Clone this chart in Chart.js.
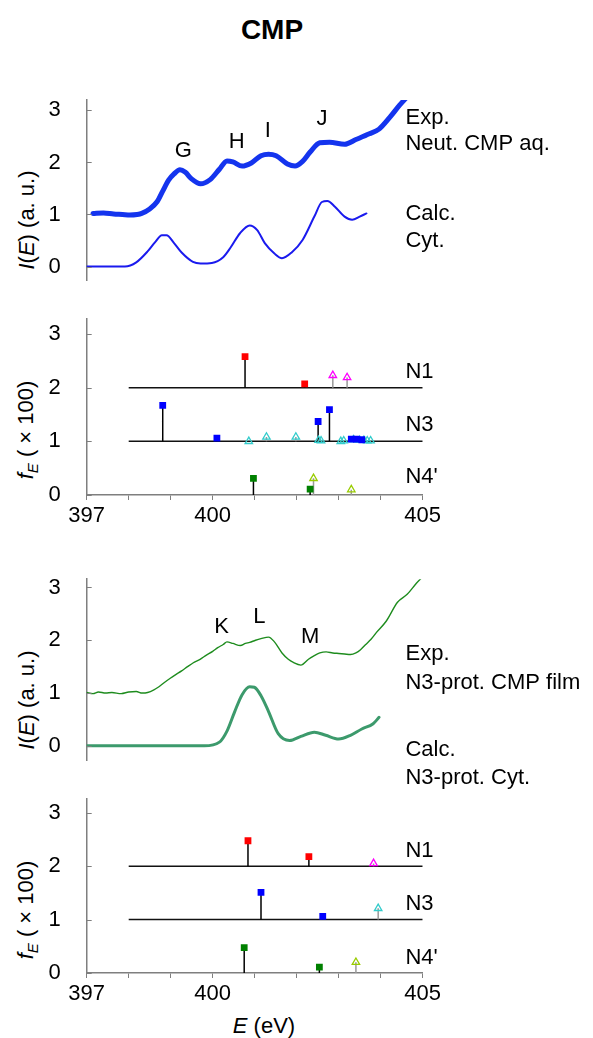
<!DOCTYPE html>
<html>
<head>
<meta charset="utf-8">
<script src="https://cdn.jsdelivr.net/npm/chart.js@4.4.1/dist/chart.umd.min.js"></script>
<style>
	body { margin: 0; background: #fff; }
	#page { position: relative; width: 593px; height: 1038px; overflow: hidden; background: #fff;
		font-family: "Liberation Sans", Arial, sans-serif; color: #000; }
	#page canvas { position: absolute; left: 0; }
	.txt { position: absolute; white-space: nowrap; font-size: 22px; line-height: 1; }
	.title { left: 272px; top: 30px; transform: translate(-50%, -50%); font-weight: bold; font-size: 28px; }
	.ytitle { transform: translate(-50%, -50%) rotate(-90deg); }
	.sub { font-size: 15px; vertical-align: -5px; }
</style>
</head>
<body>
<div id="page">
	<div class="txt title">CMP</div>
	<div class="txt ytitle" style="left:27px; top:220px"><i>I</i>(<i>E</i>) (a. u.)</div>
	<div class="txt ytitle" style="left:27px; top:430px"><i>f</i><span class="sub"><i>E</i></span> ( × 100)</div>
	<div class="txt ytitle" style="left:27px; top:700px"><i>I</i>(<i>E</i>) (a. u.)</div>
	<div class="txt ytitle" style="left:27px; top:910px"><i>f</i><span class="sub"><i>E</i></span> ( × 100)</div>
	<div class="txt" style="left:264px; top:1026px; transform: translate(-50%, -50%)"><i>E</i> (eV)</div>

	<canvas id="neut_spectrum" width="593" height="260" style="top:60px"></canvas>
	<canvas id="neut_sticks" width="593" height="270" style="top:280px"></canvas>
	<canvas id="prot_spectrum" width="593" height="260" style="top:540px"></canvas>
	<canvas id="prot_sticks" width="593" height="278" style="top:760px"></canvas>
</div>
<script>
// ===========================================
// Data
// ===========================================

// Axis ticks
var xTicks = [397, 398, 399, 400, 401, 402, 403, 404, 405];
var xTickLabels = [397, 400, 405];
var yTicks = [0, 1, 2, 3];

// Neutral CMP, experiment (aq.) and calculation (Cyt.)
var neutExpE = [397.15, 397.4, 397.64, 397.85, 398.03, 398.2, 398.31, 398.49, 398.68, 398.81,
	398.95, 399.08, 399.22, 399.35, 399.49, 399.71, 399.94, 400.16, 400.34, 400.48,
	400.7, 400.92, 401.15, 401.33, 401.51, 401.78, 401.96, 402.14, 402.32, 402.55,
	402.78, 403.14, 403.41, 403.73, 403.96, 404.22, 404.45, 404.63];
var neutExpI = [1.02, 1.03, 1.01, 1.0, 0.99, 1.0, 1.02, 1.1, 1.25, 1.45,
	1.66, 1.78, 1.86, 1.81, 1.69, 1.59, 1.67, 1.87, 2.03, 2.01,
	1.93, 1.99, 2.13, 2.16, 2.13, 1.97, 1.93, 2.02, 2.2, 2.38,
	2.39, 2.35, 2.44, 2.55, 2.64, 2.87, 3.1, 3.26];

var neutCalcE = [396.93, 397.91, 398.18, 398.45, 398.63, 398.79, 398.9, 399.08, 399.26, 399.53,
	399.71, 399.98, 400.25, 400.43, 400.65, 400.88, 401.06, 401.24, 401.47, 401.65,
	401.88, 402.14, 402.42, 402.6, 402.73, 402.91, 403.14, 403.32, 403.5, 403.66];
var neutCalcI = [0, 0, 0.08, 0.29, 0.47, 0.6, 0.6, 0.45, 0.27, 0.09,
	0.06, 0.07, 0.18, 0.37, 0.64, 0.79, 0.7, 0.45, 0.25, 0.16,
	0.27, 0.51, 0.96, 1.24, 1.26, 1.15, 0.96, 0.9, 0.96, 1.02];

// N3-protonated CMP, experiment (film) and calculation
var protExpE = [397.0, 397.15, 397.28, 397.45, 397.6, 397.82, 398.0, 398.18, 398.32, 398.45,
	398.6, 398.72, 398.85, 398.99, 399.12, 399.26, 399.4, 399.53, 399.7, 399.85,
	400.0, 400.12, 400.25, 400.34, 400.48, 400.66, 400.78, 400.88, 401.02, 401.15,
	401.33, 401.47, 401.65, 401.8, 401.92, 402.1, 402.28, 402.4, 402.55, 402.7,
	402.86, 403.0, 403.14, 403.28, 403.41, 403.52, 403.63, 403.77, 403.9, 404.13,
	404.4, 404.63, 404.85, 405.03];
var protExpI = [1.01, 0.99, 1.02, 1.0, 1.01, 0.99, 1.02, 1.03, 1.0, 1.01,
	1.06, 1.12, 1.2, 1.28, 1.35, 1.42, 1.5, 1.57, 1.64, 1.72,
	1.79, 1.86, 1.92, 1.97, 1.94, 1.9, 1.94, 1.96, 2.0, 2.03,
	2.06, 1.97, 1.76, 1.64, 1.58, 1.53, 1.64, 1.7, 1.76, 1.78,
	1.76, 1.75, 1.74, 1.73, 1.76, 1.82, 1.91, 2.02, 2.15, 2.36,
	2.72, 2.87, 3.08, 3.23];

var protCalcE = [397.0, 399.8, 400.16, 400.34, 400.52, 400.7, 400.88, 400.99, 401.15, 401.33,
	401.56, 401.83, 402.1, 402.42, 402.69, 403.0, 403.28, 403.55, 403.82, 403.96];
var protCalcI = [0, 0, 0.07, 0.28, 0.64, 0.97, 1.12, 1.11, 0.95, 0.65,
	0.23, 0.1, 0.18, 0.26, 0.2, 0.13, 0.2, 0.32, 0.42, 0.54];

// Oscillator strengths f_E (x100), neutral CMP
var neutN1SqE = [400.77, 402.19];
var neutN1SqF = [0.58, 0.07];
var neutN1TriE = [402.86, 403.2];
var neutN1TriF = [0.23, 0.19];
var neutN3SqE = [398.81, 400.1, 402.51, 402.78, 403.3, 403.42, 403.55];
var neutN3SqF = [0.67, 0.06, 0.37, 0.59, 0.04, 0.04, 0.03];
var neutN3TriE = [400.86, 401.28, 401.98, 402.52, 402.58, 403.05, 403.12, 403.35, 403.5, 403.6, 403.68, 403.76];
var neutN3TriF = [0.0, 0.08, 0.08, 0.02, 0.01, 0.0, 0.01, 0.03, 0.02, 0.02, 0.01, 0.01];
var neutN4SqE = [400.97, 402.32];
var neutN4SqF = [0.31, 0.11];
var neutN4TriE = [402.4, 403.3];
var neutN4TriF = [0.31, 0.1];

// Oscillator strengths f_E (x100), N3-protonated CMP
var protN1SqE = [400.84, 402.29];
var protN1SqF = [0.475, 0.18];
var protN1TriE = [403.83];
var protN1TriF = [0.05];
var protN3SqE = [401.15, 402.62];
var protN3SqF = [0.51, 0.06];
var protN3TriE = [403.94];
var protN3TriF = [0.21];
var protN4SqE = [400.75, 402.54];
var protN4SqF = [0.475, 0.11];
var protN4TriE = [403.41];
var protN4TriF = [0.2];

// Row names and their vertical offsets
var rowNames = ["N1", "N3", "N4'"];
var rowOffsets = [2, 1, 0];

// ===========================================
// Styles
// ===========================================
var fontFamily = '"Liberation Sans", Arial, sans-serif';
var fontSize = 22;
var axisColor = '#7f7f7f';
var baselineStart = 398;

var sqColors = ['#ff0000', '#0000ff', '#008000'];
var triColors = ['#ff00ff', '#33cccc', '#99cc00'];

// Annotations, in data units
var neutPeakLabels = [
	{ text: 'G', e: 399.3, v: 2.22 },
	{ text: 'H', e: 400.57, v: 2.40 },
	{ text: 'I', e: 401.31, v: 2.61 },
	{ text: 'J', e: 402.6, v: 2.83 },
	{ text: 'Exp.', e: 404.59, v: 2.85, align: 'left' },
	{ text: 'Neut. CMP aq.', e: 404.59, v: 2.35, align: 'left' },
	{ text: 'Calc.', e: 404.59, v: 1.02, align: 'left' },
	{ text: 'Cyt.', e: 404.59, v: 0.5, align: 'left' }
];
var protPeakLabels = [
	{ text: 'K', e: 400.21, v: 2.26 },
	{ text: 'L', e: 401.11, v: 2.44 },
	{ text: 'M', e: 402.32, v: 2.07 },
	{ text: 'Exp.', e: 404.59, v: 1.74, align: 'left' },
	{ text: 'N3-prot. CMP film', e: 404.59, v: 1.2, align: 'left' },
	{ text: 'Calc.', e: 404.59, v: -0.08, align: 'left' },
	{ text: 'N3-prot. Cyt.', e: 404.59, v: -0.6, align: 'left' }
];
var rowLabelV = [[2.30, 1.31, 0.33], [2.29, 1.29, 0.28]];

// ===========================================
// Functions
// ===========================================
function toPoints(xs, ys) {
	return xs.map(function(x, i) { return { x: x, y: ys[i] }; });
}

function stemPoints(es, fs, offset) {
	var pts = [];
	es.forEach(function(e, i) {
		pts.push({ x: e, y: offset });
		pts.push({ x: e, y: offset + fs[i] });
		pts.push({ x: e, y: null });
	});
	return pts;
}

function labelPlugin(labels) {
	return {
		id: 'panelLabels',
		afterDraw: function(chart) {
			var ctx = chart.ctx, xs = chart.scales.x, ys = chart.scales.y;
			ctx.save();
			ctx.font = fontSize + 'px ' + fontFamily;
			ctx.fillStyle = '#000';
			ctx.textBaseline = 'middle';
			labels.forEach(function(l) {
				ctx.textAlign = l.align || 'center';
				ctx.fillText(l.text, xs.getPixelForValue(l.e), ys.getPixelForValue(l.v));
			});
			ctx.restore();
		}
	};
}

// y ticks point into the plot
var inwardTicks = {
	id: 'inwardTicks',
	afterDraw: function(chart) {
		var ctx = chart.ctx, ys = chart.scales.y, left = chart.chartArea.left;
		ctx.save();
		ctx.strokeStyle = axisColor;
		ctx.lineWidth = 1;
		ys.ticks.forEach(function(t) {
			var y = Math.round(ys.getPixelForValue(t.value)) + 0.5;
			ctx.beginPath();
			ctx.moveTo(left, y);
			ctx.lineTo(left + 5, y);
			ctx.stroke();
		});
		ctx.restore();
	}
};

function makeScales(yMin, yMax, showX, xHeight) {
	return {
		x: {
			type: 'linear', min: 397, max: 405, display: showX,
			afterBuildTicks: function(s) { s.ticks = xTicks.map(function(v) { return { value: v }; }); },
			afterFit: function(s) { if (showX) s.height = xHeight; },
			ticks: {
				autoSkip: false, maxRotation: 0, padding: 3, color: '#000',
				font: { family: fontFamily, size: fontSize },
				callback: function(v) { return xTickLabels.indexOf(v) >= 0 ? String(v) : ''; }
			},
			grid: { drawOnChartArea: false, drawTicks: true, tickLength: 5, color: axisColor },
			border: { color: axisColor, width: 1.5 }
		},
		y: {
			type: 'linear', min: yMin, max: yMax,
			afterBuildTicks: function(s) { s.ticks = yTicks.map(function(v) { return { value: v }; }); },
			afterFit: function(s) { s.width = 86.7; },
			ticks: { padding: 26, color: '#000', font: { family: fontFamily, size: fontSize } },
			grid: { display: false, drawTicks: false },
			border: { color: axisColor, width: 1.5 }
		}
	};
}

function baseOptions(scales, padTop, padBottom) {
	return {
		responsive: false,
		animation: false,
		layout: { padding: { left: 0, right: 170.3, top: padTop, bottom: padBottom } },
		plugins: { legend: { display: false }, tooltip: { enabled: false } },
		scales: scales
	};
}

function createSpectrumChart(canvas, expData, expStyle, calcData, calcStyle, yMin, yMax, padTop, padBottom, labels) {
	new Chart(canvas, {
		type: 'line',
		data: {
			datasets: [
			{
				data: expData, borderColor: expStyle.color, borderWidth: expStyle.width,
				pointRadius: 0, cubicInterpolationMode: 'monotone', borderJoinStyle: 'round', borderCapStyle: 'round'
			},
			{
				data: calcData, borderColor: calcStyle.color, borderWidth: calcStyle.width,
				pointRadius: 0, cubicInterpolationMode: 'monotone', borderJoinStyle: 'round', borderCapStyle: 'round'
			}
			]
		},
		options: baseOptions(makeScales(yMin, yMax, false, 0), padTop, padBottom),
		plugins: [inwardTicks, labelPlugin(labels)]
	});
}

function createStickChart(canvas, rows, yMax, padTop, xHeight, labelV) {
	var markers = [], stems = [], baselines = [];
	var labels = [];
	rows.forEach(function(r, i) {
		var off = rowOffsets[i];
		markers.push({
			type: 'scatter', data: toPoints(r.sqE, r.sqF.map(function(f) { return f + off; })),
			pointStyle: 'rect', pointRadius: 4.8, backgroundColor: sqColors[i], borderColor: sqColors[i], borderWidth: 0
		});
		markers.push({
			type: 'scatter', data: toPoints(r.triE, r.triF.map(function(f) { return f + off; })),
			pointStyle: 'triangle', pointRadius: 4.3, backgroundColor: 'rgba(255,255,255,0)', borderColor: triColors[i], borderWidth: 1.3
		});
		stems.push({
			type: 'line', data: stemPoints(r.sqE, r.sqF, off), borderColor: '#000', borderWidth: 1.5, pointRadius: 0, spanGaps: false
		});
		stems.push({
			type: 'line', data: stemPoints(r.triE, r.triF, off), borderColor: '#999', borderWidth: 1.5, pointRadius: 0, spanGaps: false
		});
		if (off > 0) {
			baselines.push({
				type: 'line', data: [{ x: baselineStart, y: off }, { x: 405, y: off }], borderColor: '#111', borderWidth: 1.5, pointRadius: 0
			});
		}
		labels.push({ text: rowNames[i], e: 404.59, v: labelV[i], align: 'left' });
	});
	new Chart(canvas, {
		type: 'scatter',
		data: { datasets: markers.concat(stems, baselines) },
		options: baseOptions(makeScales(0, yMax, true, xHeight), padTop, 0),
		plugins: [inwardTicks, labelPlugin(labels)]
	});
}

// ===========================================
// Charts
// ===========================================
var neut_spectrum = document.getElementById("neut_spectrum").getContext('2d');
var neut_sticks = document.getElementById("neut_sticks").getContext('2d');
var prot_spectrum = document.getElementById("prot_spectrum").getContext('2d');
var prot_sticks = document.getElementById("prot_sticks").getContext('2d');

createSpectrumChart(neut_spectrum,
	toPoints(neutExpE, neutExpI), { color: '#1434ee', width: 5 },
	toPoints(neutCalcE, neutCalcI), { color: '#1a1aee', width: 2 },
	-0.274, 3.2, 40, 30, neutPeakLabels);

createStickChart(neut_sticks, [
	{ sqE: neutN1SqE, sqF: neutN1SqF, triE: neutN1TriE, triF: neutN1TriF },
	{ sqE: neutN3SqE, sqF: neutN3SqF, triE: neutN3TriE, triF: neutN3TriF },
	{ sqE: neutN4SqE, sqF: neutN4SqF, triE: neutN4TriE, triF: neutN4TriF }
], 3.277, 34, 55, rowLabelV[0]);

createSpectrumChart(prot_spectrum,
	toPoints(protExpE, protExpI), { color: '#1e8c1e', width: 1.4 },
	toPoints(protCalcE, protCalcI), { color: '#3c9a6c', width: 3 },
	-0.283, 3.157, 37, 32, protPeakLabels);

createStickChart(prot_sticks, [
	{ sqE: protN1SqE, sqF: protN1SqF, triE: protN1TriE, triF: protN1TriF },
	{ sqE: protN3SqE, sqF: protN3SqF, triE: protN3TriE, triF: protN3TriF },
	{ sqE: protN4SqE, sqF: protN4SqF, triE: protN4TriE, triF: protN4TriF }
], 3.253, 33, 65, rowLabelV[1]);
</script>
</body>
</html>
